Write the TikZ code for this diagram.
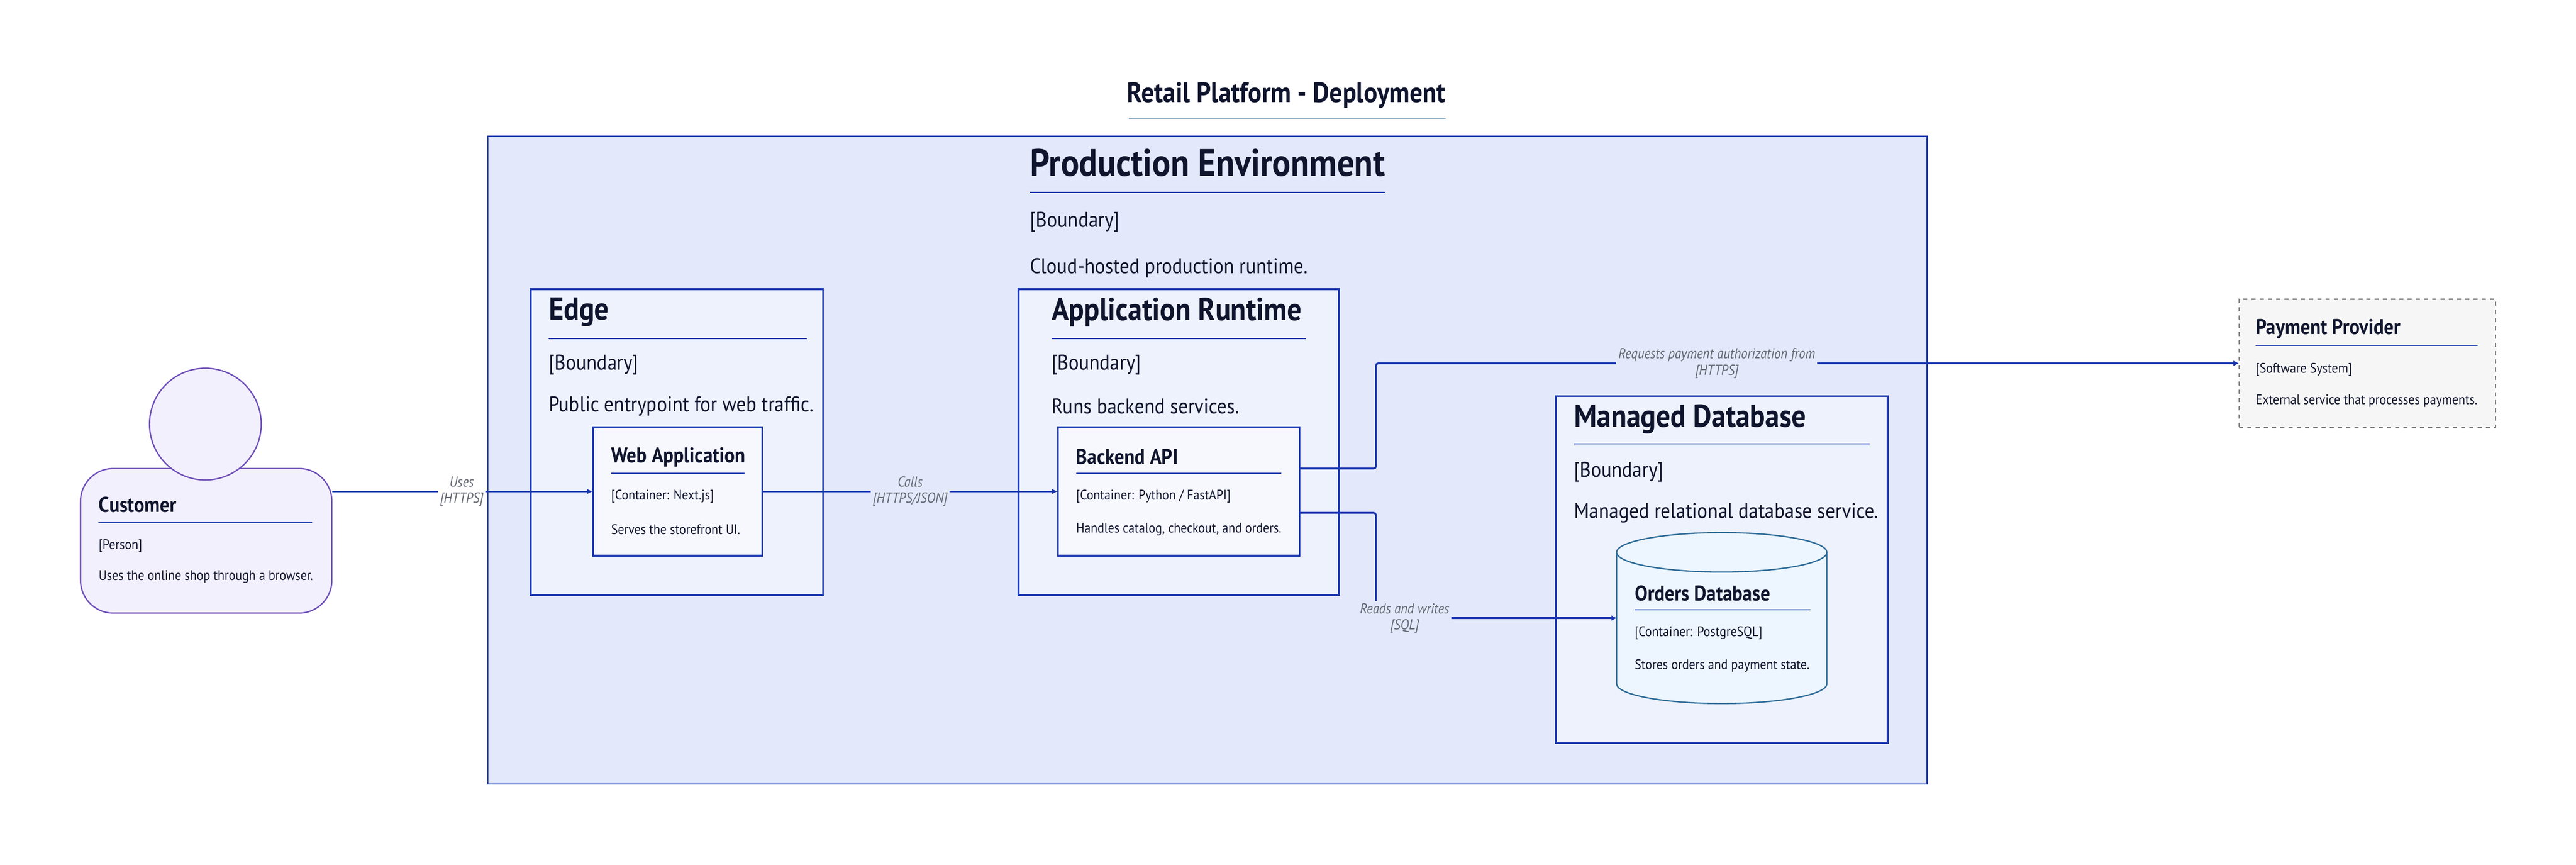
\documentclass[tikz,border=0pt]{standalone}
\usepackage{fontspec}
\setmainfont[FakeStretch=0.9]{PT Sans}
\usepackage{tikz}
\usetikzlibrary{arrows.meta}

\definecolor{edgeblue}{HTML}{1A37B0}
\definecolor{prodfill}{HTML}{E3E8FA}
\definecolor{boundfill}{HTML}{EEF2FD}
\definecolor{contfill}{HTML}{F6F8FE}
\definecolor{perline}{HTML}{6E4FB8}
\definecolor{perfill}{HTML}{F3F0FD}
\definecolor{dbline}{HTML}{2F6D99}
\definecolor{dbfill}{HTML}{EDF6FE}
\definecolor{ink}{HTML}{10152E}
\definecolor{lblgray}{HTML}{666A75}

\tikzset{
  bound/.style = {draw=edgeblue, line width=1.1mm, fill=boundfill, inner sep=0},
  cont/.style  = {draw=edgeblue, line width=1.1mm, fill=contfill, inner sep=0},
  txt/.style   = {anchor=west, inner sep=0, text=ink},
  big/.style   = {txt, font={\fontsize{66}{70}\selectfont\bfseries}},
  bhead/.style = {txt, font={\fontsize{55}{60}\selectfont\bfseries}},
  btxt/.style  = {txt, font={\fontsize{37}{40}\selectfont}},
  chead/.style = {txt, font={\fontsize{37}{40}\selectfont\bfseries}},
  ctxt/.style  = {txt, font={\fontsize{24}{28}\selectfont}},
  uline/.style = {draw=edgeblue, line width=0.6mm},
  rel/.style   = {draw=edgeblue, line width=1.1mm, rounded corners=4,
                  -{Triangle[length=9pt,width=8pt]}},
  lbl/.style   = {align=center, inner sep=1.2mm, text=lblgray,
                  font={\fontsize{25}{28}\selectfont\itshape}},
}

\begin{document}
\begin{tikzpicture}[x=1mm, y=-1mm]
    \useasboundingbox[fill=white] (0,0) rectangle (1568,526);

    % title
    \node[txt, anchor=center, font={\fontsize{49}{52}\selectfont\bfseries}] (title) at (783,58) {Retail Platform - Deployment};
    \draw[draw=dbline, line width=0.5mm] (687,72) -- (880,72);

    % production environment
    \draw[draw=edgeblue, line width=0.8mm, fill=prodfill] (297,83) rectangle (1173,477);
    \node[big] (prodtitle) at (627,99) {Production Environment};
    \draw[uline] (627,117) -- (843,117);
    \node[btxt] at (627,135) {[Boundary]};
    \node[btxt] at (627,163) {Cloud-hosted production runtime.};

    % edge
    \draw[bound] (323,176) rectangle (501,362);
    \node[bhead] at (334,190) {Edge};
    \draw[uline] (334,206) -- (491,206);
    \node[btxt] at (334,222) {[Boundary]};
    \node[btxt] at (334,247) {Public entrypoint for web traffic.};

    \node[cont, minimum width=103mm, minimum height=78mm] (web) at (412.5,299) {};
    \node[chead] at (372,278) {Web Application};
    \draw[uline] (372,288) -- (453,288);
    \node[ctxt] at (372,302) {[Container: Next.js]};
    \node[ctxt] at (372,322) {Serves the storefront UI.};

    % application runtime
    \draw[bound] (620,176) rectangle (815,362);
    \node[bhead] at (640,190) {Application Runtime};
    \draw[uline] (640,206) -- (795,206);
    \node[btxt] at (640,222) {[Boundary]};
    \node[btxt] at (640,247) {Runs backend services.};

    \node[cont, minimum width=147mm, minimum height=78mm] (api) at (717.5,299) {};
    \node[chead] at (655,278) {Backend API};
    \draw[uline] (655,288) -- (780,288);
    \node[ctxt] at (655,302) {[Container: Python / FastAPI]};
    \node[ctxt] at (655,322) {Handles catalog, checkout, and orders.};

    % managed database
    \draw[bound] (947,241) rectangle (1149,452);
    \node[bhead] at (958,255) {Managed Database};
    \draw[uline] (958,270) -- (1138,270);
    \node[btxt] at (958,287) {[Boundary]};
    \node[btxt] at (958,312) {Managed relational database service.};

    \draw[draw=dbline, line width=0.8mm, fill=dbfill] (984,336) -- (984,416)
        arc[start angle=180, end angle=360, x radius=64, y radius=-12] -- (1112,336)
        arc[start angle=0, end angle=180, x radius=64, y radius=-12] -- cycle;
    \draw[draw=dbline, line width=0.8mm] (984,336) arc[start angle=180, end angle=360, x radius=64, y radius=-12];
    \coordinate (db) at (984,376);
    \node[chead] at (995,361) {Orders Database};
    \draw[uline] (995,371) -- (1102,371);
    \node[ctxt] at (995,385) {[Container: PostgreSQL]};
    \node[ctxt] at (995,405) {Stores orders and payment state.};

    % payment provider
    \node[draw=gray, line width=0.8mm, dash pattern=on 2.5mm off 2.5mm, fill=gray!7,
          minimum width=156mm, minimum height=78mm, inner sep=0] (pay) at (1441,221) {};
    \node[chead] at (1373,200) {Payment Provider};
    \draw[uline] (1373,210) -- (1508,210);
    \node[ctxt] at (1373,225) {[Software System]};
    \node[ctxt] at (1373,244) {External service that processes payments.};

    % customer
    \node[draw=perline, line width=0.8mm, fill=perfill, rounded corners=20mm,
          minimum width=153mm, minimum height=88mm, inner sep=0] (cust) at (125.5,329) {};
    \node[circle, draw=perline, line width=0.8mm, fill=perfill, minimum size=68mm, inner sep=0] (head) at (125,258) {};
    \node[chead] at (60,307) {Customer};
    \draw[uline] (60,318) -- (190,318);
    \node[ctxt] at (60,332) {[Person]};
    \node[ctxt] at (60,351) {Uses the online shop through a browser.};

    % relationships
    \draw[rel] (web.west -| cust.east) -- (web.west);
    \draw[rel] (web.east) -- (api.west);
    \draw[rel] ([yshift=14mm]api.east) -- ++(46,0) |- (pay.west);
    \draw[rel] ([yshift=-13mm]api.east) -- ++(46,0) |- (db);

    \node[lbl, fill=white] (usesl) at (281,299) {Uses\\{}[HTTPS]};
    \node[lbl, fill=prodfill] (callsl) at (554,299) {Calls\\{}[HTTPS/JSON]};
    \node[lbl, fill=prodfill] (payl) at (1045,221) {Requests payment authorization from\\{}[HTTPS]};
    \node[lbl, fill=prodfill] (sqll) at (855,376) {Reads and writes\\{}[SQL]};
\end{tikzpicture}
\end{document}
